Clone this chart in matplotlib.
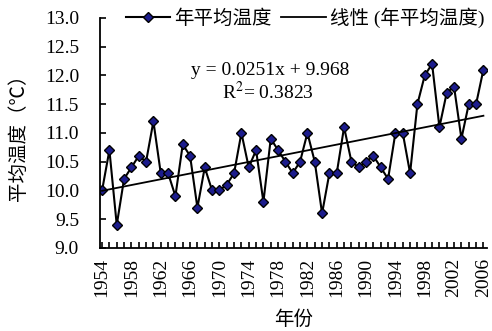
import numpy as np
import matplotlib
matplotlib.use("Agg")
import matplotlib.pyplot as plt

plt.rcParams['font.family'] = ['Liberation Serif', 'Noto Sans CJK SC']
plt.rcParams['mathtext.fontset'] = 'stix'

# Data
years = list(range(1954, 2007))
temps = [10.0, 10.7, 9.4, 10.2, 10.4, 10.6, 10.5, 11.2, 10.3, 10.3,
         9.9, 10.8, 10.6, 9.7, 10.4, 10.0, 10.0, 10.1, 10.3, 11.0,
         10.4, 10.7, 9.8, 10.9, 10.7, 10.5, 10.3, 10.5, 11.0, 10.5,
         9.6, 10.3, 10.3, 11.1, 10.5, 10.4, 10.5, 10.6, 10.4, 10.2,
         11.0, 11.0, 10.3, 11.5, 12.0, 12.2, 11.1, 11.7, 11.8, 10.9,
         11.5, 11.5, 12.1]
slope = 0.0251
intercept = 9.968
yticks = [9.0, 9.5, 10.0, 10.5, 11.0, 11.5, 12.0, 12.5, 13.0]


def main():
    x = np.arange(len(years))
    trend = slope * (x + 1) + intercept

    fig = plt.figure(figsize=(4.92, 3.31), dpi=100)
    ax = fig.add_axes([0.203, 0.251, 0.787, 0.695])

    ax.plot(x, temps, color="black", lw=1.5, marker="D", markersize=5.5,
            markerfacecolor="#1c1c8c", markeredgecolor="black",
            markeredgewidth=1.0, label="年平均温度")
    ax.plot(x, trend, color="black", lw=1.3, label="线性 (年平均温度)")

    ax.set_xlim(-0.3, len(years) - 0.5)
    ax.set_ylim(9.0, 13.0)
    ax.set_yticks(yticks)
    ax.set_yticklabels([f"{v:.1f}" for v in yticks], fontsize=14)
    ax.set_xticks(x, minor=True)
    ax.set_xticks(x[::4])
    ax.set_xticklabels([str(y) for y in years[::4]], rotation=90, fontsize=14)
    ax.tick_params(axis="both", which="both", direction="in", length=4,
                   width=1.2)
    ax.tick_params(axis="x", which="major", pad=7)
    ax.tick_params(axis="y", which="major", pad=15)

    for s in ["top", "right"]:
        ax.spines[s].set_visible(False)
    for s in ["left", "bottom"]:
        ax.spines[s].set_linewidth(1.3)

    ax.set_ylabel("平均温度（℃）", fontsize=14)
    ax.yaxis.set_label_coords(-0.185, 0.5)
    ax.set_xlabel("年份", fontsize=14)
    ax.xaxis.set_label_coords(0.5, -0.27)

    ax.text(0.44, 0.75, "y = 0.0251x + 9.968", transform=ax.transAxes,
            ha="center", fontsize=14)
    ax.text(0.435, 0.645, "R$^2$= 0.3823", transform=ax.transAxes,
            ha="center", fontsize=14)

    ax.legend(loc="center", bbox_to_anchor=(0.53, 1.0), ncol=2,
              frameon=False, fontsize=14, handlelength=2.3,
              columnspacing=0.5, handletextpad=0.2, borderpad=0.1)

    fig.savefig("out.png", dpi=100)


if __name__ == "__main__":
    main()
